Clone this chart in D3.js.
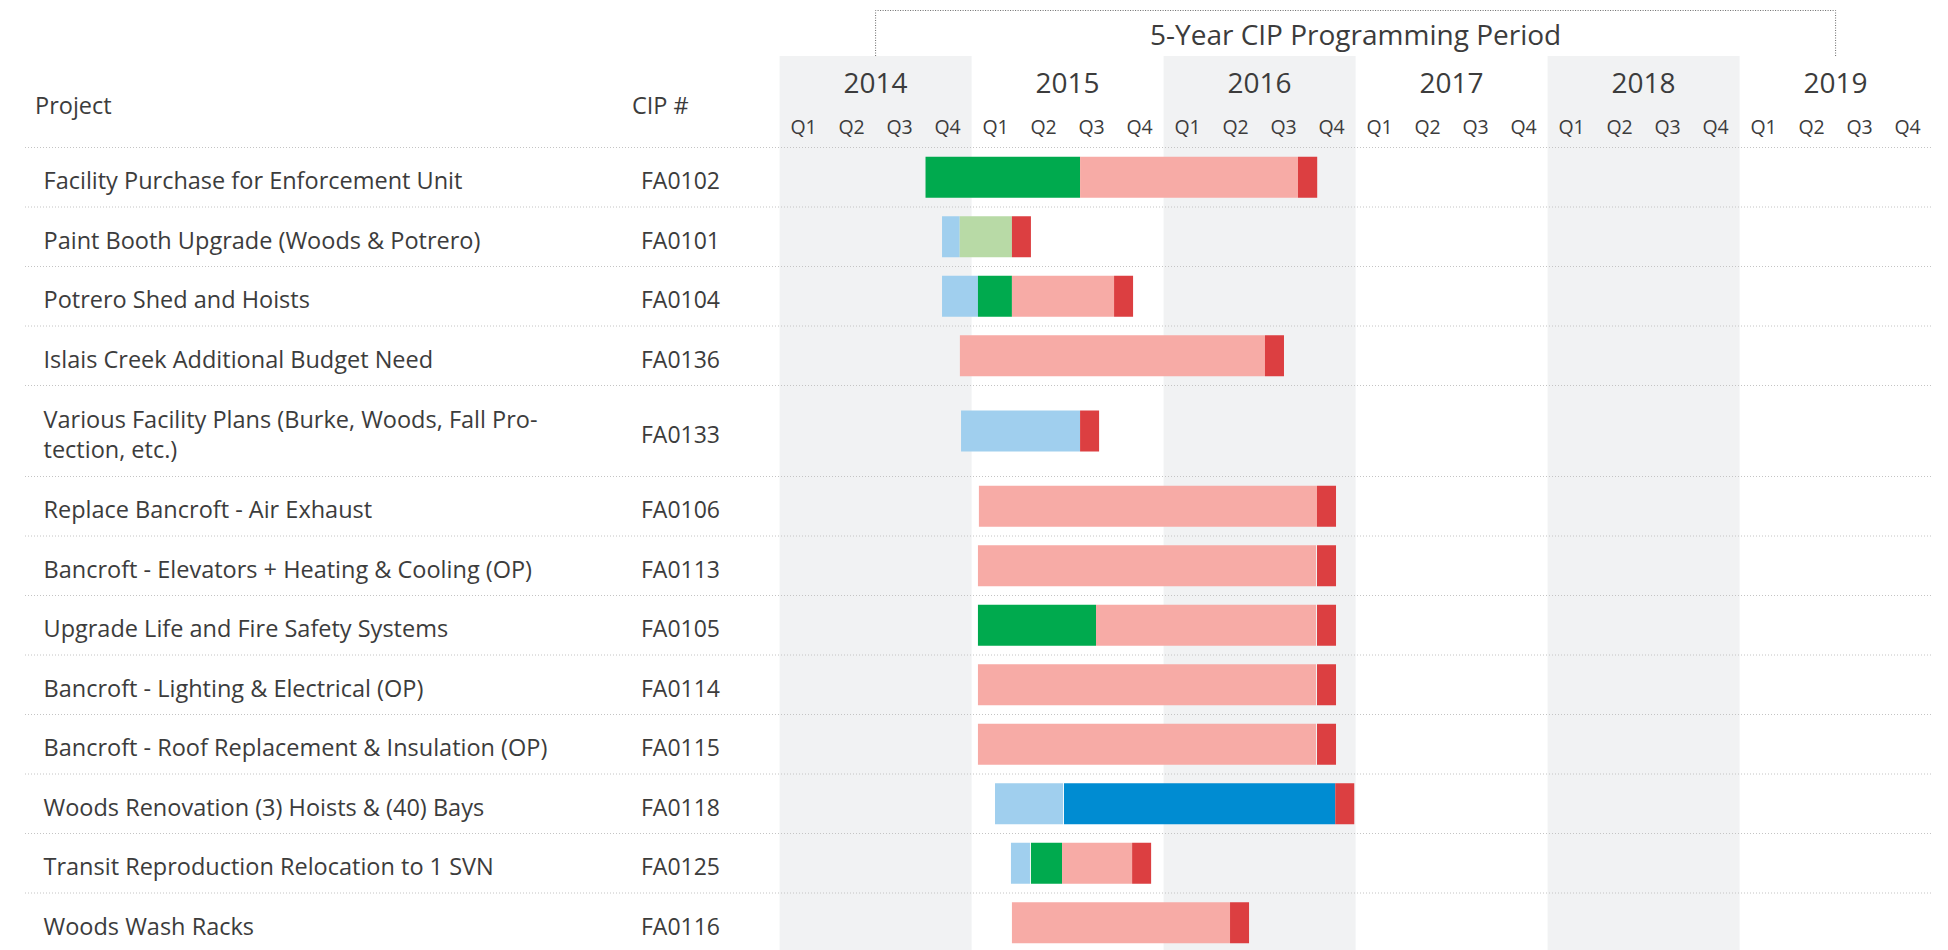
<!DOCTYPE html>
<html lang="en">
<head>
    <meta charset="UTF-8">
    <title>5-Year CIP Programming Period</title>
    <script src="https://cdnjs.cloudflare.com/ajax/libs/d3/7.8.5/d3.min.js"></script>
    <style>
        body {
            margin: 0;
            background-color: white;
            font-family: "Open Sans", "Noto Sans", Arial, sans-serif;
        }
        text {
            fill: #3c3c3c;
        }
    </style>
</head>
<body>
    <svg id="chart"></svg>

    <script>
        // Data
        const years = [2014, 2015, 2016, 2017, 2018, 2019];
        const quarterLabels = ["Q1", "Q2", "Q3", "Q4"];
        const programmingPeriod = [2014.5, 2019.5];

        const projects = [
            "Facility Purchase for Enforcement Unit",
            "Paint Booth Upgrade (Woods & Potrero)",
            "Potrero Shed and Hoists",
            "Islais Creek Additional Budget Need",
            "Various Facility Plans (Burke, Woods, Fall Pro-\ntection, etc.)",
            "Replace Bancroft - Air Exhaust",
            "Bancroft - Elevators + Heating & Cooling (OP)",
            "Upgrade Life and Fire Safety Systems",
            "Bancroft - Lighting & Electrical (OP)",
            "Bancroft - Roof Replacement & Insulation (OP)",
            "Woods Renovation (3) Hoists & (40) Bays",
            "Transit Reproduction Relocation to 1 SVN",
            "Woods Wash Racks"
        ];

        const cipNumbers = [
            "FA0102", "FA0101", "FA0104", "FA0136", "FA0133", "FA0106", "FA0113",
            "FA0105", "FA0114", "FA0115", "FA0118", "FA0125", "FA0116"
        ];

        const phases = ["Planning", "Environmental", "Design", "Construction", "Procurement", "Closeout"];
        const phaseColors = ["#a0cfee", "#b8daa6", "#00aa4e", "#f7aba6", "#008cd2", "#dc3f41"];

        // [phase, start, end] in decimal years, one list per project
        const schedule = [
            [["Design", 2014.76, 2015.565], ["Construction", 2015.565, 2016.70], ["Closeout", 2016.70, 2016.80]],
            [["Planning", 2014.846, 2014.938], ["Environmental", 2014.938, 2015.21], ["Closeout", 2015.21, 2015.309]],
            [["Planning", 2014.846, 2015.033], ["Design", 2015.033, 2015.21], ["Construction", 2015.21, 2015.742], ["Closeout", 2015.742, 2015.841]],
            [["Construction", 2014.939, 2016.528], ["Closeout", 2016.528, 2016.627]],
            [["Planning", 2014.945, 2015.565], ["Closeout", 2015.565, 2015.664]],
            [["Construction", 2015.038, 2016.799], ["Closeout", 2016.799, 2016.898]],
            [["Construction", 2015.033, 2016.794], ["Closeout", 2016.799, 2016.898]],
            [["Design", 2015.033, 2015.648], ["Construction", 2015.648, 2016.794], ["Closeout", 2016.799, 2016.898]],
            [["Construction", 2015.033, 2016.794], ["Closeout", 2016.799, 2016.898]],
            [["Construction", 2015.033, 2016.794], ["Closeout", 2016.799, 2016.898]],
            [["Planning", 2015.122, 2015.476], ["Procurement", 2015.481, 2016.894], ["Closeout", 2016.894, 2016.993]],
            [["Planning", 2015.205, 2015.304], ["Design", 2015.309, 2015.471], ["Construction", 2015.471, 2015.836], ["Closeout", 2015.836, 2015.935]],
            [["Construction", 2015.21, 2016.346], ["Closeout", 2016.346, 2016.445]]
        ];

        // Layout
        const width = 1948;
        const height = 950;
        const headerBottom = 147.5;
        const lineRowHeight = 59.5;
        const extraLineHeight = 30;
        const barHeight = 41;
        const bandTop = 56;
        const labelSize = "23.5px";
        const textShift = 3;

        const svg = d3.select("#chart")
            .attr("width", width)
            .attr("height", height);

        const xScale = d3.scaleLinear()
            .domain([2014, 2020])
            .range([779.6, 1931.6]);

        const color = d3.scaleOrdinal()
            .domain(phases)
            .range(phaseColors);

        // Row positions (two-line labels get taller rows)
        const rows = [];
        let y = headerBottom;
        projects.forEach((name, i) => {
            const lines = name.split("\n");
            const h = lineRowHeight + (lines.length - 1) * 31.5;
            rows.push({ name, lines, cip: cipNumbers[i], segments: schedule[i], top: y, height: h });
            y += h;
        });

        // Alternating year bands
        svg.selectAll("rect.band")
            .data(years.filter((d, i) => i % 2 === 0))
            .enter()
            .append("rect")
            .attr("class", "band")
            .attr("x", d => xScale(d))
            .attr("y", bandTop)
            .attr("width", d => xScale(d + 1) - xScale(d))
            .attr("height", height - bandTop)
            .attr("fill", "#f1f2f3");

        // Programming period bracket
        const p0 = xScale(programmingPeriod[0]);
        const p1 = xScale(programmingPeriod[1]);
        svg.append("path")
            .attr("d", `M${p0},${bandTop} V10.5 H${p1} V${bandTop}`)
            .attr("fill", "none")
            .attr("stroke", "#6a6a6a")
            .attr("stroke-width", 1)
            .attr("stroke-dasharray", "1,1.5");

        svg.append("text")
            .attr("x", xScale(d3.mean(programmingPeriod)))
            .attr("y", 34)
            .attr("text-anchor", "middle")
            .attr("dominant-baseline", "central")
            .style("font-size", "28px")
            .text("5-Year CIP Programming Period");

        // Year and quarter labels
        svg.selectAll("text.year")
            .data(years)
            .enter()
            .append("text")
            .attr("class", "year")
            .attr("x", d => xScale(d + 0.5))
            .attr("y", 82)
            .attr("text-anchor", "middle")
            .attr("dominant-baseline", "central")
            .style("font-size", "28px")
            .text(d => d);

        const quarters = years.flatMap(yr => quarterLabels.map((q, i) => ({ yr, q, i })));
        svg.selectAll("text.quarter")
            .data(quarters)
            .enter()
            .append("text")
            .attr("class", "quarter")
            .attr("x", d => xScale(d.yr + (d.i + 0.5) / 4))
            .attr("y", 126)
            .attr("text-anchor", "middle")
            .attr("dominant-baseline", "central")
            .style("font-size", "19.5px")
            .text(d => d.q);

        // Column headers
        svg.append("text")
            .attr("x", 35)
            .attr("y", 105)
            .attr("dominant-baseline", "central")
            .style("font-size", labelSize)
            .text("Project");

        svg.append("text")
            .attr("x", 632)
            .attr("y", 105)
            .attr("dominant-baseline", "central")
            .style("font-size", labelSize)
            .text("CIP #");

        // Dotted row separators
        const separators = [headerBottom].concat(rows.slice(0, -1).map(r => r.top + r.height));
        svg.selectAll("line.sep")
            .data(separators)
            .enter()
            .append("line")
            .attr("class", "sep")
            .attr("x1", 25)
            .attr("x2", xScale(2020))
            .attr("y1", d => d)
            .attr("y2", d => d)
            .attr("stroke", "#c4c4c4")
            .attr("stroke-width", 1)
            .attr("stroke-dasharray", "1,2");

        // Rows
        const row = svg.selectAll("g.row")
            .data(rows)
            .enter()
            .append("g")
            .attr("class", "row")
            .attr("transform", d => `translate(0,${d.top})`);

        row.append("text")
            .attr("x", 43.5)
            .attr("y", d => d.height / 2 + textShift - (d.lines.length - 1) * extraLineHeight / 2)
            .attr("dominant-baseline", "central")
            .style("font-size", labelSize)
            .selectAll("tspan")
            .data(d => d.lines)
            .enter()
            .append("tspan")
            .attr("x", 43.5)
            .attr("dy", (d, i) => i === 0 ? 0 : extraLineHeight)
            .text(d => d);

        row.append("text")
            .attr("x", 641)
            .attr("y", d => d.height / 2 + textShift)
            .attr("dominant-baseline", "central")
            .style("font-size", "23px")
            .text(d => d.cip);

        row.selectAll("rect.seg")
            .data(d => d.segments.map(s => ({ phase: s[0], start: s[1], end: s[2], rowHeight: d.height })))
            .enter()
            .append("rect")
            .attr("class", "seg")
            .attr("x", d => xScale(d.start))
            .attr("y", d => (d.rowHeight - barHeight) / 2)
            .attr("width", d => xScale(d.end) - xScale(d.start))
            .attr("height", barHeight)
            .attr("fill", d => color(d.phase));
    </script>
</body>
</html>
